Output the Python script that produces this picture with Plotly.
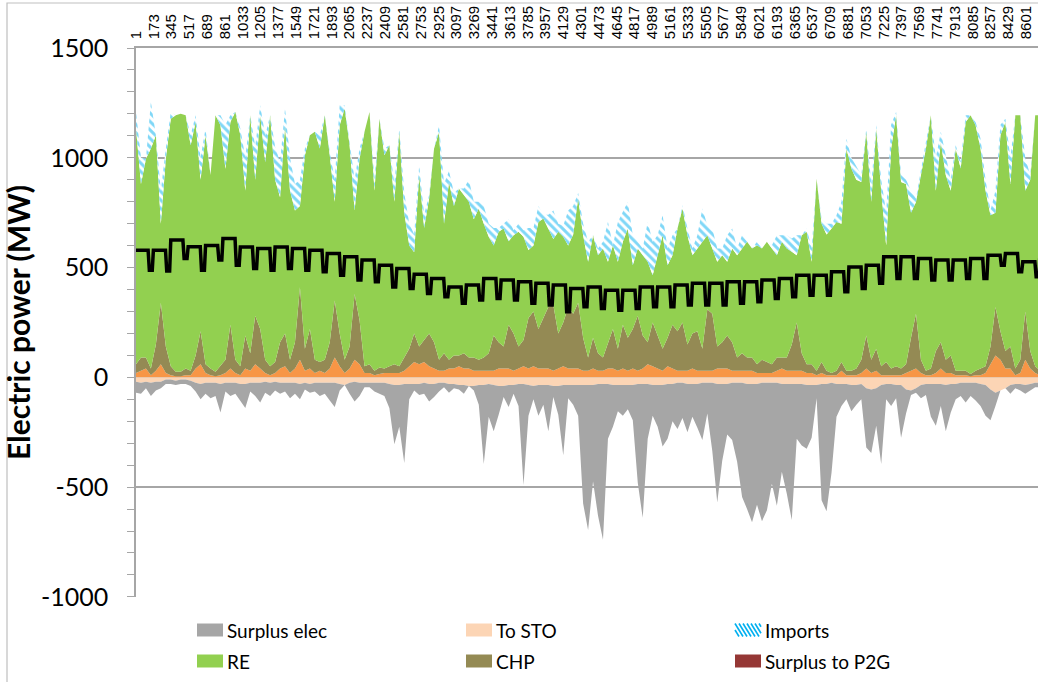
import numpy as np
import plotly.graph_objects as go

# Hourly simulation of one year, sampled every 48 h (hour 1 ... 8737)
hours = np.arange(1, 8760, 48)

# Top of the local supply stack (storage discharge + CHP + RE), MW
supply_top = [
    1133, 880, 996, 1042, 1103, 700, 996, 1178, 1194, 1201,
    1194, 1057, 1163, 900, 1103, 921, 1194, 1148, 950, 1163,
    1209, 1103, 850, 1194, 900, 1194, 980, 1194, 900, 820,
    1148, 850, 760, 780, 1012, 1103, 1118, 1042, 1194, 1012,
    800, 1148, 1224, 1057, 760, 996,
    1118, 1209, 850, 1178, 1012, 1057, 800, 1118, 750, 600,
    570, 921, 680, 814, 1042, 1118, 700, 890, 780, 860,
    830, 800, 720, 769, 700, 640, 600, 663, 678, 620,
    647, 663, 640, 580, 600, 708, 723, 678, 630, 663,
    640, 600, 650, 814, 647,
    526, 647, 556, 587, 526, 602, 526, 617, 678, 511,
    587, 556, 526, 465, 556, 647, 511, 556, 678, 769,
    647, 556, 587, 617, 647, 587, 526, 556, 526, 587,
    556, 587, 617, 587, 602, 587, 617, 587, 556, 617,
    587, 572, 556, 647, 663, 526,
    905, 700, 650, 678, 708, 700, 1042, 951, 900, 890,
    1118, 800, 1133, 850, 600, 1042, 1194, 890, 880, 750,
    799, 921, 1042, 1194, 850, 1072, 921, 850, 1042, 951,
    1163, 1194, 1148, 1042, 850, 738, 750, 1103, 1163, 880,
    1194, 1194, 850, 900, 1194, 1194,
]

# Top of the whole positive stack including imports, MW
total_top = [
    1209, 1000, 996, 1254, 1103, 850, 1042, 1209, 1194, 1201,
    1194, 1103, 1194, 1000, 1133, 921, 1194, 1194, 1150, 1194,
    1209, 1133, 1000, 1194, 1050, 1239, 1100, 1194, 1050, 980,
    1224, 1000, 880, 900, 1042, 1103, 1118, 1103, 1194, 1027,
    900, 1239, 1239, 1072, 900, 1042,
    1118, 1209, 900, 1178, 1042, 1057, 880, 1133, 840, 700,
    650, 966, 740, 830, 1042, 1148, 880, 940, 840, 860,
    860, 900, 800, 800, 780, 700, 680, 680, 700, 720,
    670, 700, 670, 680, 680, 780, 740, 740, 760, 700,
    690, 760, 780, 840, 700,
    617, 647, 587, 617, 708, 602, 708, 754, 799, 647,
    617, 587, 708, 617, 647, 738, 587, 647, 678, 784,
    678, 587, 647, 769, 693, 678, 587, 587, 647, 678,
    587, 647, 617, 587, 617, 587, 617, 602, 647, 647,
    647, 632, 647, 647, 678, 587,
    905, 720, 700, 700, 738, 800, 1087, 1000, 960, 921,
    1133, 880, 1148, 900, 750, 1150, 1209, 921, 900, 850,
    814, 951, 1072, 1194, 1000, 1118, 1000, 900, 1057, 981,
    1194, 1194, 1163, 1087, 900, 760, 850, 1150, 1178, 1000,
    1194, 1194, 1000, 920, 1194, 1194,
]

# CHP generation, MW
chp = [
    40, 60, 50, 30, 120, 280, 120, 40, 20, 20,
    30, 20, 60, 150, 40, 30, 20, 40, 60, 200,
    60, 40, 150, 80, 220, 180, 60, 40, 50, 120,
    150, 60, 120, 330, 100, 180, 60, 40, 60, 120,
    260, 150, 60, 100, 300, 200,
    30, 40, 20, 30, 20, 30, 40, 30, 60, 80,
    130, 80, 100, 150, 120, 50, 80, 40, 60, 50,
    70, 50, 60, 50, 60, 80, 160, 120, 100, 200,
    170, 100, 120, 230, 250, 180, 230, 280, 300, 160,
    200, 280, 250, 300, 150,
    60, 140, 80, 60, 120, 180, 100, 200, 150, 180,
    250, 150, 100, 200, 150, 100, 130, 200, 180, 220,
    120, 160, 180, 100, 280, 260, 100, 120, 150, 130,
    60, 80, 60, 60, 40, 60, 50, 40, 60, 50,
    60, 120, 220, 80, 40, 40,
    20, 50, 20, 10, 20, 40, 20, 20, 30, 60,
    150, 60, 100, 40, 60, 30, 40, 30, 40, 150,
    250, 60, 20, 30, 100, 120, 60, 80, 20, 20,
    20, 10, 20, 30, 30, 80, 220, 130, 80, 100,
    30, 60, 220, 80, 30, 20,
]

# Discharge from storage, MW
from_sto = [
    20, 30, 40, 10, 30, 60, 20, 10, 5, 5,
    10, 10, 40, 60, 20, 10, 5, 10, 20, 40,
    20, 10, 40, 30, 60, 40, 20, 10, 20, 40,
    50, 20, 40, 80, 30, 40, 20, 30, 20, 40,
    90, 50, 20, 40, 80, 60,
    20, 20, 10, 15, 20, 20, 20, 20, 30, 50,
    70, 60, 70, 50, 40, 30, 30, 40, 40, 50,
    40, 40, 30, 30, 30, 30, 30, 40, 40, 40,
    30, 40, 50, 40, 50, 40, 40, 40, 30, 40,
    50, 40, 40, 40, 30,
    30, 40, 30, 30, 40, 40, 30, 40, 30, 40,
    30, 40, 60, 50, 40, 30, 50, 40, 30, 30,
    30, 40, 30, 30, 30, 30, 40, 40, 40, 30,
    30, 30, 30, 30, 20, 20, 20, 20, 30, 40,
    30, 30, 30, 30, 20, 20,
    10, 20, 10, 10, 10, 30, 10, 10, 10, 20,
    40, 20, 30, 10, 10, 10, 10, 10, 20, 30,
    40, 20, 10, 10, 20, 40, 20, 20, 10, 10,
    10, 5, 10, 10, 20, 60, 100, 80, 40, 40,
    10, 20, 80, 40, 20, 10,
]

# Charging of storage, MW (negative)
to_sto = [
    -20, -25, -20, -25, -20, -20, -10, -10, -15, -10,
    -10, -15, -25, -30, -25, -25, -25, -30, -25, -25,
    -25, -30, -30, -25, -25, -25, -20, -25, -20, -25,
    -25, -25, -25, -30, -25, -30, -25, -25, -25, -25,
    -25, -30, -35, -25, -20, -25,
    -25, -25, -25, -25, -25, -30, -35, -35, -30, -30,
    -30, -30, -25, -30, -30, -25, -25, -30, -30, -35,
    -35, -40, -40, -35, -35, -30, -35, -40, -40, -35,
    -35, -30, -30, -35, -40, -35, -35, -35, -40, -40,
    -35, -35, -35, -35, -35,
    -35, -35, -30, -30, -30, -35, -35, -35, -35, -35,
    -30, -30, -30, -35, -35, -35, -30, -30, -25, -25,
    -30, -30, -30, -25, -25, -25, -30, -30, -30, -25,
    -25, -25, -30, -30, -30, -25, -25, -25, -25, -30,
    -30, -30, -30, -30, -35, -35,
    -35, -30, -30, -25, -30, -30, -30, -35, -35, -30,
    -50, -55, -50, -35, -30, -30, -35, -35, -55, -60,
    -50, -35, -30, -30, -30, -30, -35, -30, -30, -25,
    -25, -25, -25, -30, -35, -55, -70, -60, -50, -35,
    -30, -30, -35, -30, -25, -25,
]

# Surplus electricity, MW (negative)
surplus = [
    -50, -50, -30, -60, -40, -30, -20, -20, -20, -20,
    -20, -25, -40, -70, -50, -70, -60, -130, -40, -60,
    -50, -80, -110, -40, -60, -90, -50, -60, -40, -50,
    -40, -70, -50, -70, -30, -40, -40, -60, -50, -80,
    -110, -30, 0, -50, -90, -60,
    -20, -20, -40, -50, -60, -110, -270, -190, -360, -70,
    -30, -50, -50, -80, -60, -40, -20, -40, -20, -20,
    -40, 0, -20, -90, -360, -150, -210, -130, -50, -100,
    -40, -100, -460, -140, -60, -140, -90, -210, -50, -130,
    -320, -60, -90, -140, -540,
    -660, -440, -600, -710, -250, -190, -120, -140, -110, -160,
    -450, -610, -250, -140, -190, -280, -250, -170, -210, -160,
    -220, -150, -200, -260, -140, -310, -540, -350, -230, -260,
    -360, -520, -570, -630, -550, -630, -580, -460, -560, -400,
    -500, -620, -250, -280, -290, -240,
    -60, -530, -580, -410, -150, -100, -70, -120, -90, -70,
    -270, -290, -170, -360, -70, -100, -60, -240, -110, -20,
    -20, -60, -50, -150, -190, -100, -210, -130, -70, -60,
    -90, -60, -80, -100, -140, -140, -60, 0, 0, -40,
    -20, -30, -40, -30, -20, -20,
]

# Electricity demand: weekday level and weekend level for each week, MW
demand_weekday = [
    579, 579, 625, 595, 600, 632, 594, 587, 594, 587, 579, 564, 549,
    534, 511, 496, 470, 450, 412, 420, 450, 443, 435, 428, 420, 405,
    412, 397, 397, 412, 412, 420, 428, 428, 435, 435, 443, 450, 465,
    465, 481, 503, 511, 549, 549, 541, 534, 534, 541, 556, 564, 526,
    600,
]
demand_weekend = [
    488, 484, 541, 488, 534, 511, 496, 488, 496, 488, 481, 465, 443,
    435, 412, 405, 382, 367, 337, 352, 359, 352, 337, 329, 299, 321,
    314, 306, 314, 321, 321, 329, 329, 329, 337, 344, 359, 367, 374,
    374, 390, 405, 428, 450, 450, 443, 443, 450, 450, 511, 481, 458,
]

# Hour labels along the top axis
hour_labels = [
    1, 173, 345, 517, 689, 861, 1033, 1205, 1377, 1549, 1721, 1893,
    2065, 2237, 2409, 2581, 2753, 2925, 3097, 3269, 3441, 3613, 3785,
    3957, 4129, 4301, 4473, 4645, 4817, 4989, 5161, 5333, 5505, 5677,
    5849, 6021, 6193, 6365, 6537, 6709, 6881, 7053, 7225, 7397, 7569,
    7741, 7913, 8085, 8257, 8429, 8601,
]
power_ticks = [-1000, -500, 0, 500, 1000, 1500]

# Series derived from the stacked tops
supply_top = np.array(supply_top, float)
chp = np.array(chp, float)
from_sto = np.array(from_sto, float)
re_gen = supply_top - chp - from_sto
imports = np.clip(np.array(total_top, float) - supply_top, 0, None)

# Demand polyline: weekdays flat, weekend trough
dem_x, dem_y = [], []
for w in range(len(demand_weekend)):
    start = 168 * w
    dem_x += [start + 1, start + 118, start + 130, start + 158]
    dem_y += [demand_weekday[w], demand_weekday[w],
              demand_weekend[w], demand_weekend[w]]
dem_x += [168 * len(demand_weekend) + 1, 8760]
dem_y += [demand_weekday[-1], demand_weekday[-1]]

C_SURPLUS = "#A6A6A6"
C_TOSTO = "#FCD5B5"
C_IMPORT = "#00B0F0"
C_RE = "#92D050"
C_CHP = "#948A54"
C_P2G = "#953735"
C_FROMSTO = "#F79646"

fig = go.Figure()


def area(y, name, color, group, pattern=None):
    kw = dict(x=hours, y=y, name=name, mode="lines", stackgroup=group,
              line=dict(width=0, color=color), fillcolor=color,
              showlegend=False, hoverinfo="skip")
    if pattern:
        kw["fillpattern"] = pattern
    fig.add_trace(go.Scatter(**kw))


area(from_sto, "From STO", C_FROMSTO, "pos")
area(chp, "CHP", C_CHP, "pos")
area(re_gen, "RE", C_RE, "pos")
area(imports, "Imports", C_IMPORT, "pos",
     pattern=dict(shape="\\", fgcolor=C_IMPORT, bgcolor="white",
                  size=6, solidity=0.5))
area(to_sto, "To STO", C_TOSTO, "neg")
area(surplus, "Surplus elec", C_SURPLUS, "neg")

fig.add_trace(go.Scatter(x=dem_x, y=dem_y, mode="lines", name="Demand",
                         line=dict(color="black", width=3.5),
                         showlegend=False, hoverinfo="skip"))

W, H = 1038, 682
ML, MR, MT, MB = 136, 0, 48, 85
PW, PH = W - ML - MR, H - MT - MB


def px(xp):
    return (xp - ML) / PW


def py(yp):
    return (H - MB - yp) / PH


GRID = "#A6A6A6"
fig.update_layout(
    width=W, height=H,
    margin=dict(l=ML, r=MR, t=MT, b=MB, pad=0, autoexpand=False),
    paper_bgcolor="white", plot_bgcolor="white",
    showlegend=False,
    xaxis=dict(
        side="top", range=[1, 8716], tickmode="array",
        tickvals=hour_labels, ticktext=[str(v) for v in hour_labels],
        tickangle=-90, showgrid=False, zeroline=False, ticks="",
        ticklabelstandoff=4, automargin=False,
        tickfont=dict(family="Liberation Sans", size=15, color="black"),
        showline=True, linecolor=GRID, linewidth=1.5,
    ),
    yaxis=dict(
        range=[-1000.5, 1500], tickmode="array", tickvals=power_ticks,
        ticktext=[str(v) for v in power_ticks],
        showgrid=True, gridcolor=GRID, gridwidth=1.5, zeroline=False,
        showline=True, linecolor=GRID, linewidth=1.5,
        ticks="outside", ticklen=7, tickcolor=GRID, tickwidth=1,
        minor=dict(tickmode="linear", tick0=0, dtick=100, ticks="outside",
                   ticklen=7, tickcolor=GRID, tickwidth=1, showgrid=False),
        ticklabelstandoff=14, automargin=False,
        tickfont=dict(family="Lato", size=25, color="black"),
        title=dict(text="Electric power (MW)", standoff=2,
                   font=dict(family="Lato", size=30, color="black",
                             weight="bold")),
    ),
)

shapes = [dict(type="rect", xref="paper", yref="paper",
               x0=px(7), x1=px(1060), y0=py(700), y1=py(3),
               line=dict(color="#BFBFBF", width=1.2), layer="below")]
annotations = []

# Legend: three columns, two rows of swatches with labels
legend_items = [
    ("Surplus elec", C_SURPLUS, 197, 630),
    ("To STO", C_TOSTO, 466, 630),
    ("Imports", None, 735, 630),
    ("RE", C_RE, 197, 661),
    ("CHP", C_CHP, 466, 661),
    ("Surplus to P2G", C_P2G, 735, 661),
]
SW, SH = 26, 13
for label, color, x0, yc in legend_items:
    if color is None:
        shapes.append(dict(type="rect", xref="paper", yref="paper",
                           x0=px(x0), x1=px(x0 + SW),
                           y0=py(yc + SH / 2), y1=py(yc - SH / 2),
                           fillcolor="white", line=dict(width=0)))
        for k in range(-8, SW, 4):
            xa, xb = x0 + k, x0 + k + 8
            ya, yb = yc - SH / 2, yc + SH / 2
            if xa < x0:
                ya += (x0 - xa) * SH / 8
                xa = x0
            if xb > x0 + SW:
                yb -= (xb - x0 - SW) * SH / 8
                xb = x0 + SW
            shapes.append(dict(type="line", xref="paper", yref="paper",
                               x0=px(xa), y0=py(ya), x1=px(xb), y1=py(yb),
                               line=dict(color=C_IMPORT, width=1.6)))
    else:
        shapes.append(dict(type="rect", xref="paper", yref="paper",
                           x0=px(x0), x1=px(x0 + SW),
                           y0=py(yc + SH / 2), y1=py(yc - SH / 2),
                           fillcolor=color, line=dict(width=0)))
    annotations.append(dict(text=label, xref="paper", yref="paper",
                            x=px(x0 + SW + 2), y=py(yc), xanchor="left",
                            yanchor="middle", showarrow=False,
                            font=dict(family="Lato", size=19, color="black")))

fig.update_layout(shapes=shapes, annotations=annotations)

fig.write_html("out.html")
